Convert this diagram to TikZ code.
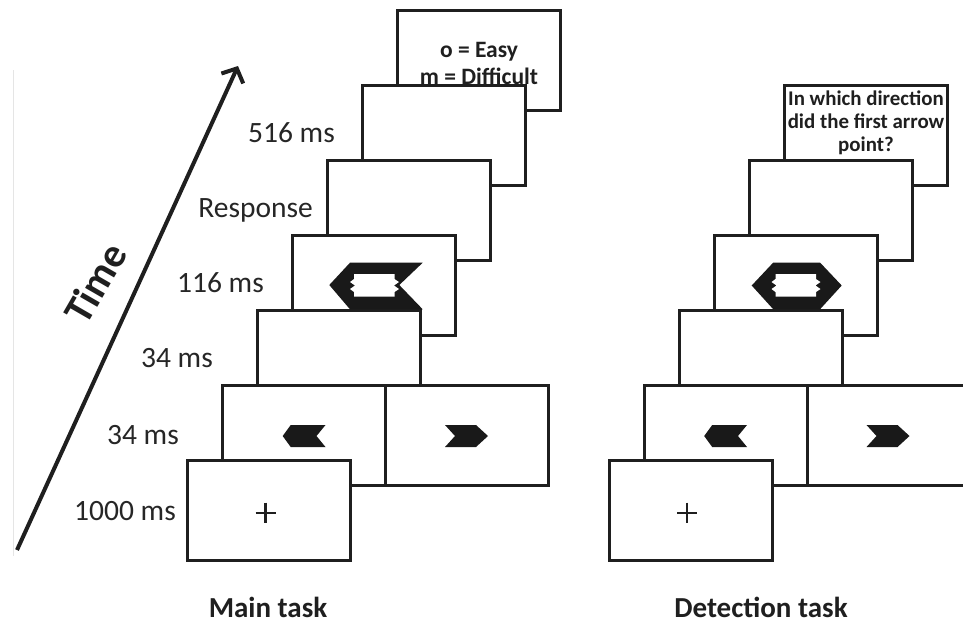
\documentclass[tikz,border=0pt]{standalone}
\usepackage{fontspec}
\setmainfont{Carlito}
\usetikzlibrary{arrows.meta}
\newcommand{\myfs}[1]{\fontsize{#1}{#1}\selectfont}
\begin{document}
\begin{tikzpicture}[x=1pt,y=-1pt,
  screen/.style={draw=black!88, line width=3pt, fill=white, rectangle,
    minimum width=163pt, minimum height=100pt, inner sep=0pt, outer sep=0pt, anchor=north west},
  stim/.style={fill=black!90, draw=none},
  hole/.style={fill=white, draw=none},
  tlabel/.style={anchor=base east, inner sep=0pt, text=black!85, font=\myfs{29.5}},
  boxtxt/.style={anchor=base, inner sep=0pt, text=black!88, font=\bfseries\myfs{23.5}},
  qtxt/.style={anchor=base, inner sep=0pt, text=black!88, font=\bfseries\myfs{20.9}},
  tasktxt/.style={anchor=base, inner sep=0pt, text=black!88, font=\bfseries\myfs{29}},
  cross/.style={draw=black!88, line width=2.3pt}
]
\useasboundingbox (0,0) rectangle (963,625);
\fill[white] (0,0) rectangle (963,625);

% faint margin line
\draw[black!10, line width=1.2pt] (13.5,70) -- (13.5,556);

% time arrow
\coordinate (tstart) at (17,550);
\coordinate (tend) at (238,66);
\draw[black!88, line width=4pt, -{Straight Barb[length=11pt,width=24pt]}] (tstart) -- (tend);
\node[rotate=60, inner sep=0pt, text=black!88, font=\bfseries\myfs{41}] (time) at (95,283) {Time};

% timing labels
\node[tlabel] (l5) at (335,142.5) {516 ms};
\node[tlabel] (l4) at (313,217.5) {Response};
\node[tlabel] (l3) at (264,292.5) {116 ms};
\node[tlabel] (l2) at (213,367.5) {34 ms};
\node[tlabel] (l1) at (179,444.5) {34 ms};
\node[tlabel] (l0) at (176,520.5) {1000 ms};

% ===== Main task =====
\node[screen] (m6) at (397.5,10) {};
\node[boxtxt] (m6a) at (479,57) {o = Easy};
\node[boxtxt] (m6b) at (479,84.5) {m = Difficult};
\node[screen] (m5) at (362.5,85) {};
\node[screen] (m4) at (327.5,160) {};
\node[screen] (m3) at (292.5,235) {};
\node[screen] (m2) at (257.5,310) {};
% big left-pointing stimulus
\fill[stim] (329.3,285) -- (350,262.7) -- (422.7,262.7) -- (399.3,285) -- (422.7,309.3) -- (350,309.3) -- cycle;
\fill[hole] (354,274) -- (394.5,274) -- (394.5,279) -- (399,282) -- (394,285.5) -- (399,289) -- (394.5,292) -- (394.5,296.5)
  -- (354,296.5) -- (354,292) -- (350,289) -- (355,285.5) -- (350,282) -- (354,279) -- cycle;
\node[screen] (m1r) at (385.5,385) {};
\node[screen] (m1) at (222.5,385) {};
\fill[stim] (282.7,436) -- (290.7,425) -- (325.5,425) -- (316.5,436) -- (325.5,447) -- (290.7,447) -- cycle;
\fill[stim] (445,425) -- (476,425) -- (488,436) -- (476,447) -- (445,447) -- (455,436) -- cycle;
\node[screen] (m0) at (187.5,460) {};
\draw[cross] (255.5,512.7) -- (275.5,512.7) (265.5,502.7) -- (265.5,522.7);

% ===== Detection task =====
\begin{scope}[shift={(421.5,0)}]
\node[screen] (d5) at (362.5,85) {};
\node[qtxt] (q1) at (444.5,105) {In which direction};
\node[qtxt] (q2) at (444.5,128.3) {did the first arrow};
\node[qtxt] (q3) at (444.5,151.7) {point?};
\node[screen] (d4) at (327.5,160) {};
\node[screen] (d3) at (292.5,235) {};
\node[screen] (d2) at (257.5,310) {};
\fill[stim] (330.2,285.5) -- (351.8,262.5) -- (398.5,262.5) -- (420.2,285.5) -- (398.5,309.3) -- (351.8,309.3) -- cycle;
\fill[hole] (354,274) -- (394.5,274) -- (394.5,279) -- (399,282) -- (394,285.5) -- (399,289) -- (394.5,292) -- (394.5,296.5)
  -- (354,296.5) -- (354,292) -- (350,289) -- (355,285.5) -- (350,282) -- (354,279) -- cycle;
\node[screen] (d1r) at (385.5,385) {};
\node[screen] (d1) at (222.5,385) {};
\fill[stim] (282.7,436) -- (290.7,425) -- (325.5,425) -- (316.5,436) -- (325.5,447) -- (290.7,447) -- cycle;
\fill[stim] (445,425) -- (476,425) -- (488,436) -- (476,447) -- (445,447) -- (455,436) -- cycle;
\node[screen] (d0) at (187.5,460) {};
\draw[cross] (255.5,512.7) -- (275.5,512.7) (265.5,502.7) -- (265.5,522.7);
\end{scope}

% task titles
\node[tasktxt] (mtask) at (268,617) {Main task};
\node[tasktxt] (dtask) at (761,617) {Detection task};
\end{tikzpicture}
\end{document}
